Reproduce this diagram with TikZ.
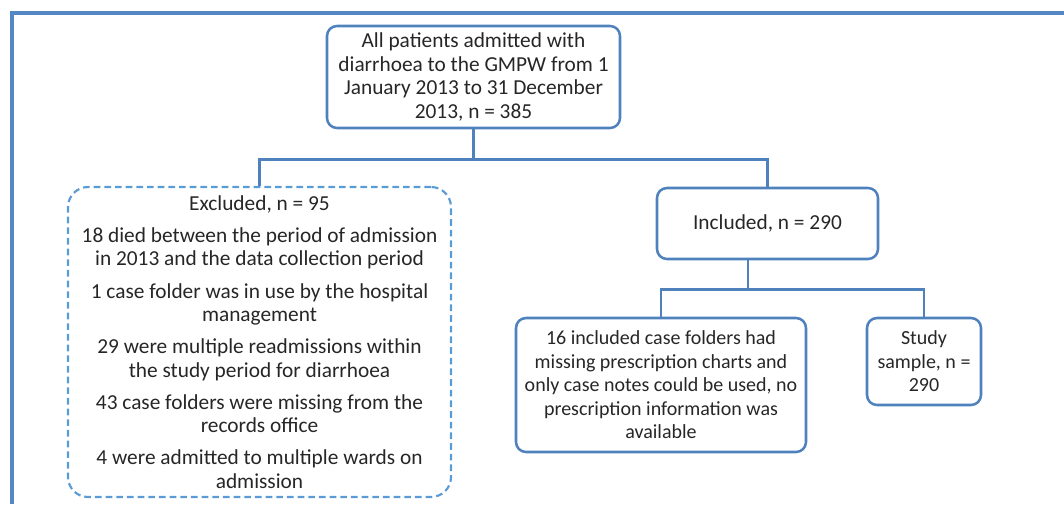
\documentclass[tikz,border=0pt]{standalone}
\usepackage{fontspec}
\setmainfont{Carlito}
\begin{document}
\begin{tikzpicture}[x=0.75pt,y=-0.75pt,
  every node/.style={font=\fontsize{16}{17.6}\selectfont, text=black!85, align=center, inner sep=0pt},
  box/.style={draw=boxblue, line width=1.9pt, rounded corners=7.5pt},
  smalltext/.style={font=\fontsize{15}{17.6}\selectfont},
  dbox/.style={draw=dashblue, line width=1.6pt, dashed, dash pattern=on 5pt off 3pt, rounded corners=15pt},
  link/.style={draw=boxblue, line width=1.9pt}]
\definecolor{boxblue}{RGB}{79,129,189}
\definecolor{dashblue}{RGB}{91,155,213}
\definecolor{frameblue}{RGB}{84,135,196}
\useasboundingbox (0,0) rectangle (1064,504);
\coordinate (fa) at (10,13);
\coordinate (fb) at (1064,13);
\coordinate (fc) at (12,504);
\draw[frameblue, line width=3pt] (fb) -- (12,13) -- (fc);

\node[box, minimum width=293*0.75pt, minimum height=102*0.75pt] (top) at (473.5,77)
  {All patients admitted with\\diarrhoea to the GMPW from 1\\January 2013 to 31 December\\2013, n = 385};

\node[dbox, minimum width=383*0.75pt, minimum height=310*0.75pt] (excl) at (259.5,342)
  {Excluded, n = 95\\[6.5pt]
   18 died between the period of admission\\in 2013 and the data collection period\\[6.5pt]
   1 case folder was in use by the hospital\\management\\[6.5pt]
   29 were multiple readmissions within\\the study period for diarrhoea\\[6.5pt]
   43 case folders were missing from the\\records office\\[6.5pt]
   4 were admitted to multiple wards on\\admission};

\node[box, minimum width=221*0.75pt, minimum height=71*0.75pt] (incl) at (767.5,223.5)
  {Included, n = 290};

\node[box, smalltext, minimum width=290*0.75pt, minimum height=134*0.75pt] (miss) at (661,385)
  {16 included case folders had\\missing prescription charts and\\only case notes could be used, no\\prescription information was\\available};

\node[box, smalltext, minimum width=114*0.75pt, minimum height=87*0.75pt] (study) at (924,361.5)
  {Study\\sample, n =\\290};

\draw[link] (top.south) -- ++(0,30) coordinate (j1);
\draw[link] (j1) -| (excl.north);
\draw[link] (j1) -| (incl.north);
\draw[link] ([xshift=-14.6pt]incl.south) -- ++(0,29) coordinate (j2);
\draw[link] (j2) -| (miss.north);
\draw[link] (j2) -| (study.north);
\end{tikzpicture}
\end{document}
